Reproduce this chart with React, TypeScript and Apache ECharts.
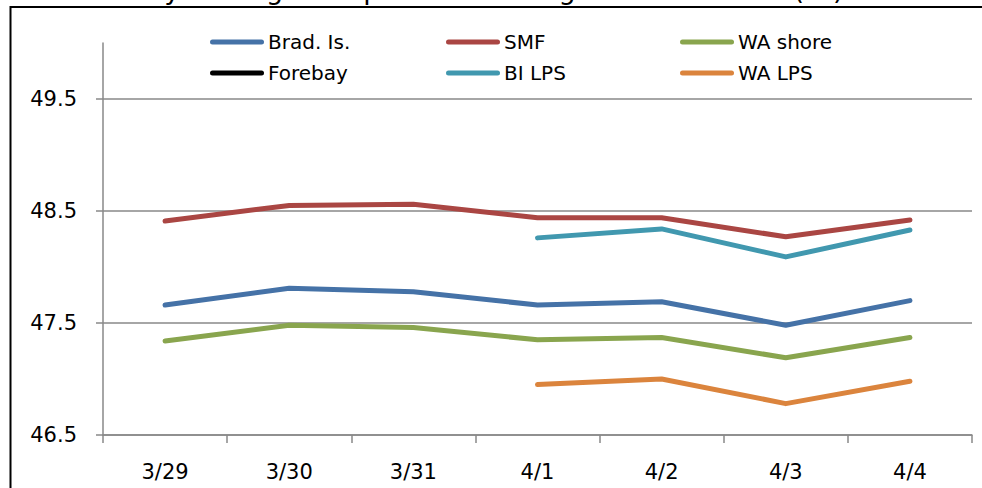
import React, { useEffect, useRef } from "react";
import * as echarts from "echarts";

const categories = ["3/29", "3/30", "3/31", "4/1", "4/2", "4/3", "4/4"];
const bradIs = [47.66, 47.81, 47.78, 47.66, 47.69, 47.48, 47.7];
const smf = [48.41, 48.55, 48.56, 48.44, 48.44, 48.27, 48.42];
const waShore = [47.34, 47.48, 47.46, 47.35, 47.37, 47.19, 47.37];
const forebay: (number | null)[] = [null, null, null, null, null, null, null];
const biLps = [null, null, null, 48.26, 48.34, 48.09, 48.33];
const waLps = [null, null, null, 46.95, 47.0, 46.78, 46.98];
const yTicks = [46.5, 47.5, 48.5, 49.5];
const titleText = "Daily Average Temperature in Degrees Fahrenheit (°F)";

const seriesDefs = [
  { name: "Brad. Is.", data: bradIs, color: "#4572A7" },
  { name: "SMF", data: smf, color: "#AA4643" },
  { name: "WA shore", data: waShore, color: "#89A54E" },
  { name: "Forebay", data: forebay, color: "#000000" },
  { name: "BI LPS", data: biLps, color: "#4198AF" },
  { name: "WA LPS", data: waLps, color: "#DB843D" },
];

const legendPos = [
  { left: 210, top: 32 },
  { left: 446, top: 32 },
  { left: 680, top: 32 },
  { left: 210, top: 63 },
  { left: 446, top: 63 },
  { left: 680, top: 63 },
];

const FONT = "DejaVu Sans";
const GRAY = "#898989";

export default function App() {
  const ref = useRef<HTMLDivElement>(null);
  useEffect(() => {
    document.body.style.margin = "0";
    if (!ref.current) return;
    const chart = echarts.init(ref.current, undefined, { renderer: "svg" });
    const icon =
      "path://M2.5,0 L51.5,0 A2.5,2.5 0 0 1 51.5,5 L2.5,5 A2.5,2.5 0 0 1 2.5,0 Z";
    chart.setOption({
      animation: false,
      backgroundColor: "#ffffff",
      grid: { left: 103, right: 10, top: 43, bottom: 53, containLabel: false },
      legend: seriesDefs.map((s, i) => ({
        data: [{ name: s.name, icon }],
        left: legendPos[i].left,
        top: legendPos[i].top,
        padding: 0,
        itemWidth: 54,
        itemHeight: 5,
        itemGap: 0,
        selectedMode: false,
        textStyle: { fontFamily: FONT, fontSize: 20, color: "#000", padding: [0, 0, 0, -1] },
      })),
      xAxis: {
        type: "category",
        data: categories,
        boundaryGap: true,
        axisLine: { lineStyle: { color: GRAY, width: 1.5 } },
        axisTick: { show: true, length: 8, lineStyle: { color: GRAY, width: 1.5 } },
        axisLabel: { fontFamily: FONT, fontSize: 21, color: "#000", margin: 26 },
        splitLine: { show: false },
      },
      yAxis: {
        type: "value",
        min: 46.5,
        max: 50,
        interval: 1,
        axisLine: { show: true, lineStyle: { color: GRAY, width: 1.5 } },
        axisTick: {
          show: true,
          length: 7,
          customValues: yTicks,
          lineStyle: { color: GRAY, width: 1.5 },
        },
        axisLabel: {
          fontFamily: FONT,
          fontSize: 21,
          color: "#000",
          margin: 26,
          customValues: yTicks,
          formatter: (v: number) => v.toFixed(1),
        },
        splitLine: {
          show: true,
          lineStyle: { color: [GRAY, GRAY, GRAY, GRAY, "transparent"], width: 1.5 },
        },
      },
      series: seriesDefs.map((s) => ({
        name: s.name,
        type: "line",
        data: s.data,
        symbol: "none",
        color: s.color,
        connectNulls: false,
        lineStyle: { color: s.color, width: 5, cap: "round", join: "round" },
        itemStyle: { color: s.color },
      })),
      graphic: [
        {
          type: "rect",
          shape: { x: 10.5, y: 7, width: 1200, height: 700 },
          style: { fill: "none", stroke: "#000", lineWidth: 2 },
          silent: true,
          z: 100,
        },
        {
          type: "text",
          x: 112,
          y: -11,
          style: {
            text: titleText,
            fontFamily: FONT,
            fontSize: 27,
            fill: "#000",
            textVerticalAlign: "middle",
            verticalAlign: "middle",
          },
          silent: true,
        },
      ],
    });
    return () => chart.dispose();
  }, []);
  return <div ref={ref} style={{ width: 982, height: 488 }} />;
}
